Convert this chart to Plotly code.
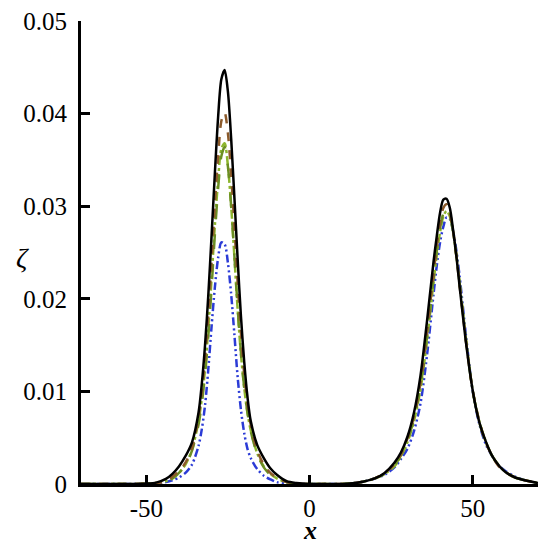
import plotly.graph_objects as go

# Shared x positions
x_vals = [-70, -55, -50, -47, -44, -42, -40, -38, -36, -34, -33, -32, -31, -30, -29, -28, -27, -26,
          -25, -24, -23, -22, -21, -20, -19, -18, -16, -14, -12, -10, -7, -4, 0, 5, 10, 14, 17, 20,
          23, 26, 28, 30, 32, 34, 36, 38, 39, 40, 41, 42, 43, 44, 45, 46, 48, 50, 52, 54, 56, 58,
          60, 63, 66, 70]

# Series values (zeta) at those x positions
zeta_black = [0, 0, 0.00005, 0.00015, 0.00055, 0.0011, 0.0019, 0.0030, 0.0045, 0.0077, 0.0108, 0.0150,
              0.0204, 0.0268, 0.0335, 0.0396, 0.0437, 0.0447, 0.0424, 0.0373, 0.0309, 0.0242, 0.0181,
              0.0132, 0.0094, 0.0068, 0.0042, 0.0028, 0.0017, 0.0010, 0.0003, 0.0001, 0, 0, 0,
              0.0001, 0.0003, 0.0006, 0.0012, 0.0023, 0.0034, 0.0051, 0.0077, 0.0117, 0.0176, 0.0240,
              0.0268, 0.0293, 0.0307, 0.0308, 0.0298, 0.0274, 0.0246, 0.0213, 0.0151, 0.0101, 0.0067,
              0.0046, 0.0030, 0.0020, 0.0013, 0.0007, 0.0004, 0.0001]

zeta_brown = [0, 0, 0.00003, 0.0001, 0.0003, 0.0008, 0.0014, 0.0023, 0.0039, 0.0072, 0.0099, 0.0135,
              0.0183, 0.0240, 0.0301, 0.0353, 0.0392, 0.0401, 0.0379, 0.0334, 0.0278, 0.0217, 0.0163,
              0.0119, 0.0087, 0.0064, 0.0036, 0.0021, 0.0012, 0.0007, 0.0002, 0.00005, 0, 0, 0,
              0.0001, 0.0003, 0.0006, 0.0012, 0.0021, 0.0032, 0.0049, 0.0073, 0.0109, 0.0164, 0.0227,
              0.0257, 0.0282, 0.0298, 0.0302, 0.0293, 0.0273, 0.0246, 0.0214, 0.0152, 0.0101, 0.0068,
              0.0045, 0.0030, 0.0019, 0.0013, 0.0007, 0.0004, 0.0001]

zeta_green = [0, 0, 0.00003, 0.0001, 0.0003, 0.0006, 0.0012, 0.0020, 0.0036, 0.0064, 0.0087, 0.0118,
              0.0160, 0.0212, 0.0269, 0.0319, 0.0354, 0.0364, 0.0343, 0.0300, 0.0246, 0.0190, 0.0142,
              0.0104, 0.0077, 0.0057, 0.0032, 0.0018, 0.0010, 0.0006, 0.0002, 0.00005, 0, 0, 0,
              0.0001, 0.0003, 0.0006, 0.0011, 0.0020, 0.0031, 0.0047, 0.0070, 0.0105, 0.0159, 0.0222,
              0.0252, 0.0276, 0.0292, 0.0297, 0.0290, 0.0272, 0.0246, 0.0216, 0.0153, 0.0100, 0.0067,
              0.0045, 0.0030, 0.0020, 0.0013, 0.0007, 0.0004, 0.0001]

zeta_lime = [0, 0, 0.00003, 0.0001, 0.0003, 0.0006, 0.0012, 0.0021, 0.0037, 0.0068, 0.0092, 0.0124,
             0.0168, 0.0222, 0.0279, 0.0328, 0.0362, 0.0368, 0.0344, 0.0300, 0.0245, 0.0188, 0.0140,
             0.0104, 0.0077, 0.0058, 0.0033, 0.0019, 0.0011, 0.0006, 0.0002, 0.00005, 0, 0, 0,
             0.0001, 0.0003, 0.0006, 0.0011, 0.0019, 0.0030, 0.0045, 0.0068, 0.0102, 0.0155, 0.0218,
             0.0248, 0.0272, 0.0289, 0.0295, 0.0289, 0.0272, 0.0247, 0.0217, 0.0155, 0.0101, 0.0068,
             0.0046, 0.0030, 0.0020, 0.0013, 0.0007, 0.0004, 0.0001]

zeta_blue = [0, 0, 0, 0.00005, 0.0002, 0.0004, 0.0007, 0.0012, 0.0021, 0.0041, 0.0059, 0.0085,
             0.0124, 0.0170, 0.0212, 0.0244, 0.0261, 0.0259, 0.0239, 0.0205, 0.0161, 0.0115, 0.0080,
             0.0055, 0.0038, 0.0028, 0.0016, 0.0009, 0.0005, 0.0002, 0.0001, 0, 0, 0, 0,
             0.0001, 0.0003, 0.0006, 0.0010, 0.0018, 0.0027, 0.0038, 0.0057, 0.0087, 0.0139, 0.0205,
             0.0236, 0.0261, 0.0278, 0.0288, 0.0286, 0.0273, 0.0252, 0.0224, 0.0158, 0.0100, 0.0065,
             0.0043, 0.0030, 0.0020, 0.0014, 0.0008, 0.0004, 0.0001]

x_ticks = [-50, 0, 50]
y_ticks = [0, 0.01, 0.02, 0.03, 0.04, 0.05]
y_tick_text = ["0", "0.01", "0.02", "0.03", "0.04", "0.05"]

series = [
    (zeta_blue, "#2B3BD6", "8px,3px,2px,3px,2px,3px"),
    (zeta_lime, "#8DB52E", "dashdot"),
    (zeta_green, "#6B8E23", "longdash"),
    (zeta_brown, "#8B5A2B", "dash"),
    (zeta_black, "#000000", "solid"),
]

fig = go.Figure()
for ys, col, dash in series:
    fig.add_trace(go.Scatter(x=x_vals, y=ys, mode="lines",
                             line=dict(color=col, width=2.5, dash=dash, shape="spline", smoothing=0.8),
                             showlegend=False, hoverinfo="skip"))

SERIF = "Liberation Serif"
font = dict(family=SERIF, size=25, color="black")

fig.update_layout(
    width=550, height=549,
    margin=dict(l=81, r=12, t=21, b=65),
    paper_bgcolor="white", plot_bgcolor="white",
    font=font,
    showlegend=False,
    xaxis=dict(range=[-70, 70], tickvals=x_ticks, ticktext=[str(v) for v in x_ticks],
               ticks="inside", ticklen=9, tickwidth=2.5, tickcolor="black",
               showline=True, linewidth=3, linecolor="black", automargin=False,
               tickfont=dict(family=SERIF, size=25, color="black"),
               showgrid=False, zeroline=False, ticklabelstandoff=0),
    yaxis=dict(range=[0, 0.05], tickvals=y_ticks, ticktext=y_tick_text,
               ticks="inside", ticklen=9, tickwidth=2.5, tickcolor="black",
               showline=True, linewidth=3, linecolor="black", automargin=False,
               tickfont=dict(family=SERIF, size=25, color="black"),
               showgrid=False, zeroline=False, ticklabelstandoff=6),
    annotations=[
        dict(text="<b><i>x</i></b>", x=0, xref="x", y=-0.066, yref="paper",
             xanchor="center", yanchor="top", showarrow=False, borderpad=0,
             font=dict(family=SERIF, size=26, color="black")),
        dict(text="<i>ζ</i>", x=-0.127, xref="paper", y=0.49, yref="paper",
             xanchor="center", yanchor="middle", showarrow=False,
             font=dict(family=SERIF, size=28, color="black")),
    ],
)

fig.write_html("out.html", config={"displayModeBar": False},
               post_script="document.body.style.margin='0';")
